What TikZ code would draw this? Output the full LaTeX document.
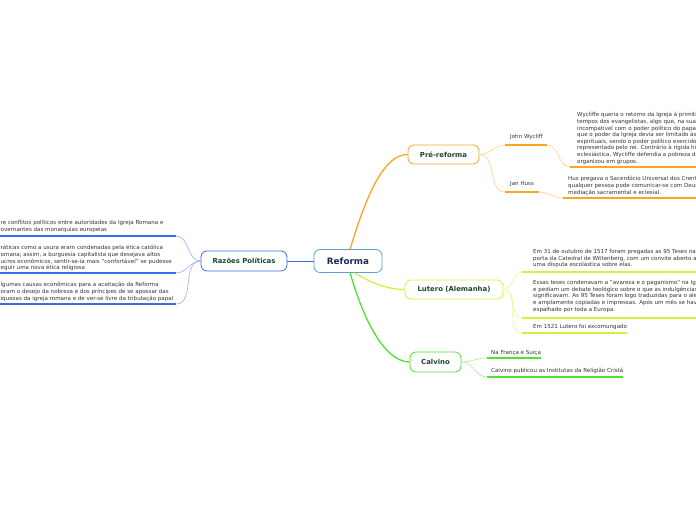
\documentclass[tikz,border=0pt]{standalone}
\usepackage{fontspec}
\setmainfont{DejaVu Sans}
\definecolor{orng}{HTML}{F9A623}
\definecolor{lorng}{HTML}{FFD28A}
\definecolor{blu}{HTML}{3A6DE6}
\definecolor{lblu}{HTML}{93B2F2}
\definecolor{refblue}{HTML}{5C9FD8}
\definecolor{ylw}{HTML}{CFF53A}
\definecolor{lylw}{HTML}{E6FA96}
\definecolor{grn}{HTML}{4DE52C}
\definecolor{lgrn}{HTML}{A6F292}
\definecolor{topictext}{HTML}{1B4A2C}
\definecolor{navy}{HTML}{1C2A50}
\definecolor{leaftext}{HTML}{333333}
\tikzset{
  topic/.style={draw, rounded corners=6pt, fill=white, text=topictext, inner sep=0pt,
    line width=0.8pt, font=\bfseries\fontsize{6.9}{8}\selectfont},
  leaf/.style={inner sep=0pt, align=left, anchor=north west, text=leaftext,
    font=\fontsize{5.55}{6.6}\selectfont},
  ul/.style={line width=1.2pt},
  link/.style={line width=0.6pt},
  branch/.style={line width=1.3pt}
}
\begin{document}
\begin{tikzpicture}[x=1pt, y=-1pt]
    \useasboundingbox (0,0) rectangle (696,520);
    \clip (0,0) rectangle (696,520);

    % Central topic
    \node[topic, draw=refblue, text=navy, minimum width=68, minimum height=23,
        font=\bfseries\fontsize{8.8}{10}\selectfont] (ref) at (348,261) {Reforma};

    % Main topics
    \node[topic, draw=orng, minimum width=71, minimum height=19] (pre) at (443.5,154.5) {Pré-reforma};
    \node[topic, draw=blu, minimum width=86, minimum height=20] (raz) at (244,261) {Razões Políticas};
    \node[topic, draw=ylw, minimum width=98, minimum height=19] (lut) at (454,289.5) {Lutero (Alemanha)};
    \node[topic, draw=grn, minimum width=51, minimum height=20] (cal) at (435.5,362) {Calvino};

    % Main branches
    \draw[orng, branch] (ref.80) .. controls (368,190) and (385,154.5) .. (pre.west);
    \draw[ylw, branch] (ref.-62) .. controls (375,285) and (390,289.5) .. (lut.west);
    \draw[grn, branch] (ref.-80) .. controls (368,335) and (390,362) .. (cal.west);
    \draw[blu, line width=0.8pt] (ref.west) -- (raz.east);

    % Pre-reforma
    \node[leaf] (jw) at (510,134.2) {John Wycliff};
    \coordinate (jw-a) at (505,145);
    \coordinate (jw-b) at (547,145);
    \node[leaf] (jh) at (510,181.2) {Jan Huss};
    \coordinate (jh-a) at (505,192);
    \coordinate (jh-b) at (539,192);
    \node[leaf] (wy) at (577,112.2) {Wycliffe queria o retorno da Igreja à primiti\\
        tempos dos evangelistas, algo que, na sua\\
        incompatível com o poder político do papa\\
        que o poder da Igreja devia ser limitado ás\\
        espirituais, sendo o poder político exercido\\
        representado pelo rei. Contrário à rígida hi\\
        eclesiástica, Wycliffe defendia a pobreza do\\
        organizou em grupos.};
    \coordinate (wy-a) at (570,167);
    \node[leaf] (hu) at (568,176.2) {Hus pregava o Sacerdócio Universal dos Crent\\
        qualquer pessoa pode comunicar-se com Deus\\
        mediação sacramental e eclesial.};
    \coordinate (hu-a) at (563,198);

    \draw[lorng, link] (pre.east) to[out=0, in=180] (jw-a);
    \draw[lorng, link] (pre.east) to[out=0, in=180] (jh-a);
    \draw[lorng, link] (jw-b) to[out=0, in=180] (wy-a);
    \draw[lorng, link] (jh-b) to[out=0, in=180] (hu-a);
    \draw[orng, ul] (jw-a) -- (jw-b);
    \draw[orng, ul] (jh-a) -- (jh-b);
    \draw[orng, ul] (wy-a) -- ++(140,0);
    \draw[orng, ul] (hu-a) -- ++(140,0);

    % Lutero
    \node[leaf] (lu1) at (533,249.2) {Em 31 de outubro de 1517 foram pregadas as 95 Teses na\\
        porta da Catedral de Wittenberg, com um convite aberto a\\
        uma disputa escolástica sobre elas.};
    \coordinate (lu1-a) at (522,272);
    \node[leaf] (lu2) at (533,280.2) {Essas teses condenavam a "avareza e o paganismo" na Igr\\
        e pediam um debate teológico sobre o que as indulgências\\
        significavam. As 95 Teses foram logo traduzidas para o ale\\
        e amplamente copiadas e impressas. Após um mês se hav\\
        espalhado por toda a Europa.};
    \coordinate (lu2-a) at (522,318);
    \node[leaf] (lu3) at (533,324.2) {Em 1521 Lutero foi excomungado};
    \coordinate (lu3-a) at (522,333);

    \draw[lylw, link] (lut.east) to[out=0, in=180] (lu1-a);
    \draw[lylw, link] (lut.east) to[out=0, in=180] (lu2-a);
    \draw[lylw, link] (lut.east) to[out=0, in=180] (lu3-a);
    \draw[ylw, ul] (lu1-a) -- ++(180,0);
    \draw[ylw, ul] (lu2-a) -- ++(180,0);
    \draw[ylw, ul] (lu3-a) -- (lu3-a -| lu3.east);

    % Calvino
    \node[leaf] (ca1) at (491,350.2) {Na França e Suiça};
    \coordinate (ca1-a) at (487,358);
    \node[leaf] (ca2) at (491,368.2) {Calvino publicou as Institutas da Religião Cristã};
    \coordinate (ca2-a) at (487,377);

    \draw[lgrn, link] (cal.east) to[out=0, in=180] (ca1-a);
    \draw[lgrn, link] (cal.east) to[out=0, in=180] (ca2-a);
    \draw[grn, ul] (ca1-a) -- (ca1-a -| ca1.east);
    \draw[grn, ul] (ca2-a) -- (ca2-a -| ca2.east);

    % Razoes Politicas
    \node[leaf] (rp1) at (0.5,220.2) {re conflitos políticos entre autoridades da Igreja Romana e\\
        overnantes das monarquias europeias};
    \coordinate (rp1-b) at (176,236);
    \node[leaf] (rp2) at (0.5,245.2) {ráticas como a usura eram condenadas pela ética católica\\
        omana; assim, a burguesia capitalista que desejava altos\\
        ucros econômicos, sentir-se-ia mais "confortável" se pudesse\\
        eguir uma nova ética religiosa};
    \coordinate (rp2-b) at (176,273);
    \node[leaf] (rp3) at (0.5,282.2) {lgumas causas econômicas para a aceitação da Reforma\\
        oram o desejo da nobreza e dos príncipes de se apossar das\\
        iquezas da igreja romana e de ver-se livre da tributação papal};
    \coordinate (rp3-b) at (176,304);

    \draw[lblu, link] (raz.west) to[out=180, in=0] (rp1-b);
    \draw[lblu, link] (raz.west) to[out=180, in=0] (rp2-b);
    \draw[lblu, link] (raz.west) to[out=180, in=0] (rp3-b);
    \draw[blu, ul] (rp1-b) -- ++(-180,0);
    \draw[blu, ul] (rp2-b) -- ++(-180,0);
    \draw[blu, ul] (rp3-b) -- ++(-180,0);
\end{tikzpicture}
\end{document}
